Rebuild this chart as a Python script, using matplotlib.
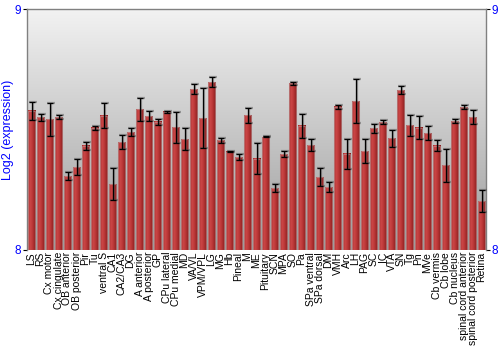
import numpy as np
import matplotlib
matplotlib.use("Agg")
import matplotlib.pyplot as plt
from matplotlib.colors import LinearSegmentedColormap

plt.rcParams['font.family'] = ['Liberation Sans', 'DejaVu Sans']

categories = ["LS", "RS", "Cx motor", "Cx cingulate", "OB anterior", "OB posterior", "Pir", "Tu",
              "ventral S", "CA1", "CA2/CA3", "DG", "A anterior", "A posterior", "GP", "CPu lateral",
              "CPu medial", "MD", "VA/VL", "VPM/VPL", "LG", "MG", "Hb", "Pineal", "M", "ME",
              "Pituitary", "SCN", "MPA", "SO", "Pa", "SPa ventral", "SPa dorsal", "DM", "VMH", "Arc",
              "LH", "PAG", "SC", "IC", "VTA", "SN", "Tg", "Pn", "MVe", "Cb vermis", "Cb lobe",
              "Cb nucleus", "spinal cord anterior", "spinal cord posterior", "Retina"]
values = [8.578, 8.551, 8.542, 8.551, 8.307, 8.344, 8.432, 8.508,
          8.557, 8.274, 8.448, 8.490, 8.584, 8.556, 8.532, 8.574,
          8.510, 8.459, 8.667, 8.548, 8.697, 8.456, 8.408, 8.385, 8.560, 8.379,
          8.469, 8.257, 8.398, 8.692, 8.516, 8.436, 8.303, 8.261, 8.595, 8.400,
          8.618, 8.411, 8.505, 8.531, 8.463, 8.663, 8.517, 8.508, 8.485, 8.432, 8.351,
          8.535, 8.593, 8.551, 8.203]
errors = [0.037, 0.015, 0.068, 0.008, 0.018, 0.032, 0.016, 0.008,
          0.051, 0.068, 0.031, 0.018, 0.048, 0.021, 0.012, 0.004,
          0.064, 0.046, 0.021, 0.126, 0.022, 0.010, 0.003, 0.012, 0.031, 0.065,
          0.002, 0.018, 0.012, 0.006, 0.050, 0.024, 0.036, 0.022, 0.008, 0.062,
          0.092, 0.050, 0.018, 0.010, 0.036, 0.016, 0.043, 0.046, 0.030, 0.023, 0.069,
          0.007, 0.008, 0.030, 0.044]
y_min, y_max = 8, 9
y_ticks = [8, 9]
y_label = "Log2 (expression)"

fig = plt.figure(figsize=(5, 3.5), dpi=100)
ax = fig.add_axes([0.054, 0.286, 0.918, 0.688])

x = np.arange(len(categories))
ax.set_xlim(-0.5, len(categories) - 0.5)
ax.set_ylim(y_min, y_max)

# background gradient
bg = LinearSegmentedColormap.from_list("bg", ["#9c9c9c", "#c8c8c8", "#f2f2f2"])
grad = np.linspace(0, 1, 256).reshape(-1, 1)
ax.imshow(grad, cmap=bg, aspect='auto', extent=[0, 1, 0, 1], origin='lower',
          transform=ax.transAxes, zorder=0)

bars = ax.bar(x, np.array(values) - y_min, bottom=y_min, width=0.86,
              facecolor='none', edgecolor=(0.75, 0.6, 0.6, 0.6), linewidth=0.8, zorder=3)

barcmap = LinearSegmentedColormap.from_list(
    "bar", ["#a42a2a", "#cc4646", "#c03c3c", "#a82c2c", "#7e1818"])
hgrad = np.linspace(0, 1, 64).reshape(1, -1)
for b in bars:
    x0 = b.get_x()
    w = b.get_width()
    y0 = b.get_y()
    h = b.get_height()
    ax.imshow(hgrad, cmap=barcmap, aspect='auto', extent=[x0, x0 + w, y0, y0 + h],
              origin='lower', zorder=2, interpolation='bilinear')
ax.set_xlim(-0.5, len(categories) - 0.5)
ax.set_ylim(y_min, y_max)

# error bar shadows and error bars
ax.errorbar(x + 0.12, values, yerr=errors, fmt='none', ecolor=(0.3, 0.3, 0.3, 0.45),
            elinewidth=1.6, capsize=2.6, capthick=1.6, zorder=4)
ax.errorbar(x, values, yerr=errors, fmt='none', ecolor='black',
            elinewidth=0.9, capsize=2.4, capthick=0.9, zorder=5)

ax.set_xticks(x)
ax.set_xticklabels(categories, rotation=90, fontsize=7.5)
ax.tick_params(axis='x', length=0, pad=1.5)
ax.set_yticks(y_ticks)
ax.set_yticklabels([str(t) for t in y_ticks])
ax.tick_params(axis='y', colors='black', labelcolor='blue', labelsize=8.5,
               length=3, width=0.8, direction='out', left=True, right=True,
               labelleft=True, labelright=True, pad=1)
ax.set_ylabel(y_label, color='blue', fontsize=9, labelpad=1)

for side in ['left', 'right', 'top']:
    ax.spines[side].set_color('#808080')
    ax.spines[side].set_linewidth(1.0)
ax.spines['bottom'].set_visible(False)

fig.savefig("out.png", dpi=100)
